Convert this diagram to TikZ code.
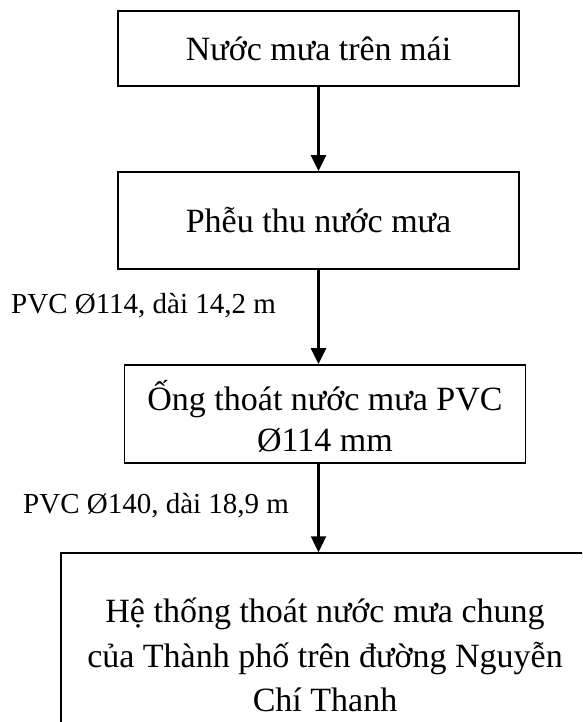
\documentclass[tikz,border=0pt]{standalone}
\usepackage{fontspec}
\setmainfont{Liberation Serif}
\usetikzlibrary{arrows.meta}

\tikzset{
  box/.style={draw,line width=1.8pt,rectangle,inner sep=0pt,align=center,
    font=\fontsize{34}{44.5}\selectfont},
  boxtext/.style={inner sep=0pt,align=center,font=\fontsize{34}{41}\selectfont},
  pipe/.style={line width=2.4pt,-{Triangle[width=15pt,length=16pt]}},
  lbl/.style={inner sep=0pt,font=\fontsize{29}{34}\selectfont}
}

\begin{document}
\begin{tikzpicture}[x=1pt,y=-1pt]
    \clip (0,0) rectangle (582,722);
    \fill[white] (0,0) rectangle (582,722);
    % boxes
    \node[box,minimum width=401pt,minimum height=75pt] (b1) at (318.5,48.5) {Nước mưa trên mái};
    \node[box,minimum width=401pt,minimum height=97pt] (b2) at (318.5,220.5) {Phễu thu nước mưa};
    \node[box,minimum width=401pt,minimum height=98pt] (b3) at (325,414) {};
    \node[boxtext] (t3) at ([yshift=-2pt]b3.center) {Ống thoát nước mưa PVC\\Ø114 mm};
    \node[box,line width=1.5pt,minimum width=528pt,minimum height=204pt] (b4) at (325,655)
      {Hệ thống thoát nước mưa chung\\của Thành phố trên đường Nguyễn\\Chí Thanh};
    % pipes
    \draw[pipe] (b1.south) -- (b2.north);
    \draw[pipe] (b2.south) -- (b2.south |- b3.north);
    \draw[pipe] (b2.south |- b3.south) -- (b2.south |- b4.north);
    \node[lbl,anchor=base west] (la) at (11,313) {PVC Ø114, dài 14,2 m};
    \node[lbl,anchor=base west] (lb) at (23,513) {PVC Ø140, dài 18,9 m};
\end{tikzpicture}
\end{document}
